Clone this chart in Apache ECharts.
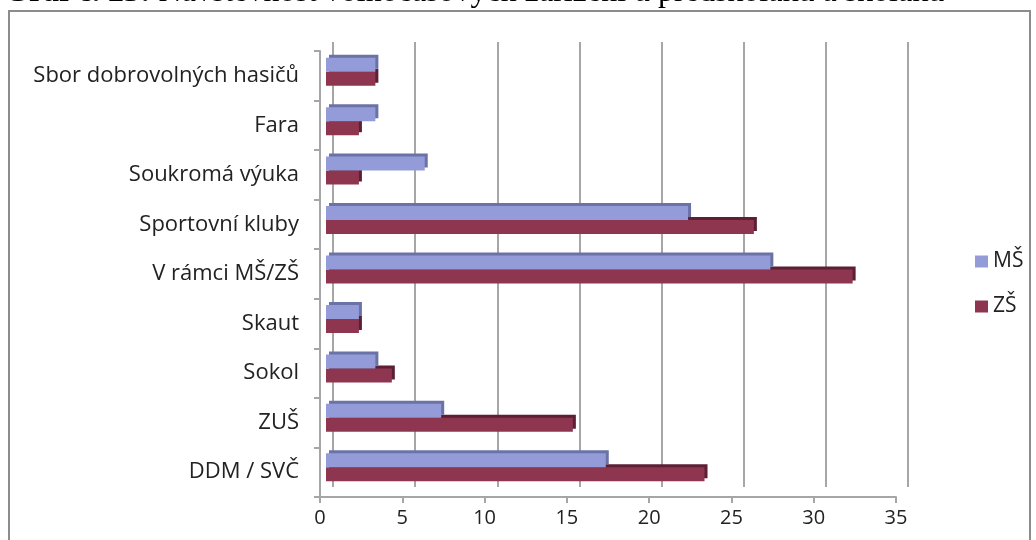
<!DOCTYPE html>
<html>
<head>
<meta charset="utf-8">
<script src="https://cdn.jsdelivr.net/npm/echarts@6/dist/echarts.min.js"></script>
<style>
  html, body { margin: 0; padding: 0; background: #fff; }
  #chart { width: 1036px; height: 540px; }
</style>
</head>
<body>
<div id="chart"></div>
<script>
// categories, bottom to top (as ECharts draws a category y axis)
const categories = [
  "DDM / SVČ",
  "ZUŠ",
  "Sokol",
  "Skaut",
  "V rámci MŠ/ZŠ",
  "Sportovní kluby",
  "Soukromá výuka",
  "Fara",
  "Sbor dobrovolných hasičů"
];
const msValues = [17, 7, 3, 2, 27, 22, 6, 3, 3];
const zsValues = [23, 15, 4, 2, 32, 26, 2, 2, 3];
const xTicks = [0, 35, 5]; // min, max, interval

const font = "'Open Sans', 'DejaVu Sans', sans-serif";
const gridGray = "#a6a6a6";

const chart = echarts.init(document.getElementById("chart"));

const option = {
  animation: false,
  backgroundColor: "#fff",
  textStyle: { fontFamily: font },
  graphic: [
    {
      type: "rect",
      shape: { x: 9, y: 11, width: 1021, height: 540 },
      style: { fill: "none", stroke: "#8c8c8c", lineWidth: 2 },
      z: -10
    },
    {
      type: "text",
      left: 4,
      top: -23,
      style: {
        text: "{b|Graf č. 23:} Návštěvnost volnočasových zařízení u předškoláků a školáků",
        font: "32px 'Liberation Serif', serif",
        fill: "#000",
        rich: {
          b: { fontWeight: "bold", fontSize: 32, fontFamily: "'Liberation Serif', serif" }
        }
      }
    }
  ],
  legend: {
    data: ["MŠ", "ZŠ"],
    orient: "vertical",
    left: 970,
    top: 246,
    itemWidth: 13,
    itemHeight: 12,
    itemGap: 24,
    icon: "rect",
    itemStyle: { shadowColor: "transparent", shadowOffsetX: 0, shadowOffsetY: 0 },
    textStyle: { fontSize: 21, color: "#222", fontFamily: font }
  },
  grid: [
    // back wall with the gridlines
    { left: 333, right: 128, top: 42, bottom: 53 },
    // front axes
    { left: 320, right: 140, top: 51, bottom: 43 },
    // bars
    { left: 326, right: 134, top: 47, bottom: 48 }
  ],
  xAxis: [
    {
      gridIndex: 0, type: "value", min: xTicks[0], max: xTicks[1], interval: xTicks[2],
      axisLine: { show: false }, axisTick: { show: false }, axisLabel: { show: false },
      splitLine: { lineStyle: { color: gridGray, width: 2 } }
    },
    {
      gridIndex: 1, type: "value", min: xTicks[0], max: xTicks[1], interval: xTicks[2],
      axisLine: { show: true, lineStyle: { color: gridGray, width: 2 } },
      axisTick: { show: true, length: 6, lineStyle: { color: gridGray, width: 2 } },
      axisLabel: { fontSize: 20, color: "#222", margin: 11, fontFamily: font },
      splitLine: { show: false }
    },
    {
      gridIndex: 2, type: "value", min: xTicks[0], max: xTicks[1], show: false
    }
  ],
  yAxis: [
    {
      gridIndex: 0, type: "category", data: categories, show: false
    },
    {
      gridIndex: 1, type: "category", data: categories,
      axisLine: { show: true, lineStyle: { color: gridGray, width: 2 } },
      axisTick: { show: true, length: 6, lineStyle: { color: gridGray, width: 2 } },
      axisLabel: { fontSize: 22, color: "#222", margin: 21, fontFamily: font }
    },
    {
      gridIndex: 2, type: "category", data: categories, show: false
    }
  ],
  series: [
    {
      name: "MŠ", type: "bar", xAxisIndex: 2, yAxisIndex: 2, z: 3,
      data: msValues, barWidth: 14, barGap: "0%",
      itemStyle: {
        color: "#939cd8",
        shadowColor: "#6a72a6", shadowOffsetX: 3, shadowOffsetY: -3, shadowBlur: 0
      }
    },
    {
      name: "ZŠ", type: "bar", xAxisIndex: 2, yAxisIndex: 2, z: 2,
      data: zsValues, barWidth: 14, barGap: "0%",
      itemStyle: {
        color: "#8e3650",
        shadowColor: "#5c1f33", shadowOffsetX: 3, shadowOffsetY: -3, shadowBlur: 0
      }
    }
  ]
};

chart.setOption(option);
</script>
</body>
</html>
